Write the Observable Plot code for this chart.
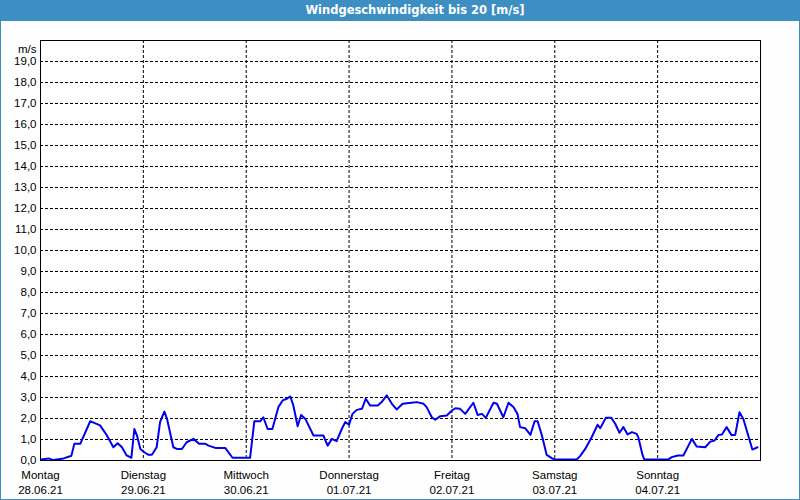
<!DOCTYPE html>
<html>
<head>
<meta charset="utf-8">
<script src="https://cdn.jsdelivr.net/npm/d3@7"></script>
<script src="https://cdn.jsdelivr.net/npm/@observablehq/plot@0.6"></script>
<style>
  html, body { margin: 0; padding: 0; background: #ffffff; }
  #wrap { width: 800px; height: 500px; box-sizing: border-box; border: 1px solid #3d8fc3; border-top: none; background: #fdfefd; overflow: hidden; }
  #title { height: 21px; background: #3d8fc3; color: #fff; font: bold 11.5px "DejaVu Sans", sans-serif; line-height: 21px; text-align: center; padding-left: 30px; margin: 0 -1px; }
  #chart svg { display: block; }
</style>
</head>
<body>
<div id="wrap">
  <div id="title">Windgeschwindigkeit bis 20 [m/s]</div>
  <div id="chart"></div>
</div>
<script>
// hours since Montag 28.06.21 00:00
const hours = [0.2,1.9,3,5.4,6.9,7.2,7.9,9.3,11.6,12.4,13.9,15.5,17,18,19,20.1,21.2,21.9,22.5,23.3,24.4,25.2,26,27.1,27.9,28.9,29.5,31,31.8,33,34.1,35.7,37,38.4,39.2,40.8,43.1,44.8,48.9,49.9,51.3,52,53,54.1,55.5,56.5,57.5,58.3,59,60,60.8,61.8,63.7,66,67,68,69.1,70.3,71.1,72,72.8,73.8,75,75.9,76.9,78.7,79.6,80.8,82,83.1,84.5,86.6,87.8,89.4,90.1,91.3,92.1,93.3,94.8,96,96.8,97.9,99.1,101,102,103,103.9,105.7,106.5,108,109.2,110.4,111.3,111.9,113.1,114.3,115.3,116,117,118.1,119.3,120.1,125.1,125.9,127.1,128.6,130,130.6,131.9,133.2,134.1,135.1,136,137,138,139.1,139.5,140.5,140.9,146.5,147.3,148.7,150,152,153.1,155.1,156.3,157.3,158.2,159,160.1,161.2,162.1,163.1,164,166.1,167.3];
const speeds = [0.05,0.1,0.02,0.1,0.2,0.22,0.8,0.8,1.87,1.8,1.67,1.19,0.63,0.82,0.63,0.24,0.13,1.5,1.2,0.55,0.37,0.27,0.27,0.63,1.83,2.33,2.0,0.63,0.55,0.55,0.87,1.03,0.8,0.8,0.71,0.6,0.6,0.13,0.13,1.87,1.87,2.06,1.5,1.5,2.54,2.86,2.94,3.05,2.62,1.63,2.17,1.98,1.19,1.19,0.71,1.03,0.92,1.5,1.83,1.7,2.22,2.41,2.46,2.94,2.62,2.62,2.78,3.1,2.7,2.43,2.7,2.75,2.78,2.7,2.54,2.06,1.94,2.11,2.14,2.38,2.49,2.46,2.22,2.75,2.17,2.22,2.03,2.75,2.7,2.06,2.75,2.54,2.22,1.59,1.54,1.22,1.87,1.87,1.19,0.27,0.11,0.05,0.05,0.21,0.55,1.11,1.7,1.54,2.03,2.03,1.75,1.32,1.59,1.24,1.35,1.27,1.1,0.24,0.05,0.05,0.16,0.24,0.24,1.03,0.67,0.63,0.9,0.95,1.22,1.24,1.59,1.22,1.22,2.3,1.98,0.52,0.63];

const dayStarts = [0, 24, 48, 72, 96, 120, 144];
const dayNames = ["Montag", "Dienstag", "Mittwoch", "Donnerstag", "Freitag", "Samstag", "Sonntag"];
const dayDates = ["28.06.21", "29.06.21", "30.06.21", "01.07.21", "02.07.21", "03.07.21", "04.07.21"];
const yTicks = [0,1,2,3,4,5,6,7,8,9,10,11,12,13,14,15,16,17,18,19];
const yGrid = yTicks.filter(d => d > 0);
const xGrid = dayStarts.filter(d => d > 0);

const series = hours.map((h, i) => ({h, v: speeds[i]}));
const days = dayStarts.map((h, i) => ({h, name: dayNames[i], date: dayDates[i]}));

const font = "'Liberation Sans', Arial, sans-serif";

const chart = Plot.plot({
  width: 798,
  height: 478,
  marginLeft: 39,
  marginRight: 39,
  marginTop: 19,
  marginBottom: 39,
  style: {fontFamily: font, fontSize: "11.5px", color: "#000", background: "transparent"},
  x: {domain: [0, 168], axis: null},
  y: {domain: [0, 20], axis: null},
  marks: [
    Plot.frame({fill: "#ffffff"}),
    Plot.ruleY(yGrid, {stroke: "#000", strokeDasharray: "3,2", strokeWidth: 1}),
    Plot.ruleX(xGrid, {stroke: "#000", strokeDasharray: "3,2", strokeWidth: 1}),
    Plot.axisY({ticks: yTicks, tickFormat: d => d.toFixed(1).replace(".", ","), tickSize: 0, tickPadding: 4, label: null, fill: "#000"}),
    Plot.text(["m/s"], {frameAnchor: "top-left", textAnchor: "end", dx: -4, dy: 4, fill: "#000"}),
    Plot.text(days, {x: "h", y: () => 0, text: "name", dy: 15, fill: "#000"}),
    Plot.text(days, {x: "h", y: () => 0, text: "date", dy: 30, fill: "#000"}),
    Plot.line(series, {x: "h", y: "v", stroke: "#0000ee", strokeWidth: 2}),
    Plot.frame({stroke: "#000", strokeWidth: 1})
  ]
});
document.getElementById("chart").appendChild(chart);
</script>
</body>
</html>
